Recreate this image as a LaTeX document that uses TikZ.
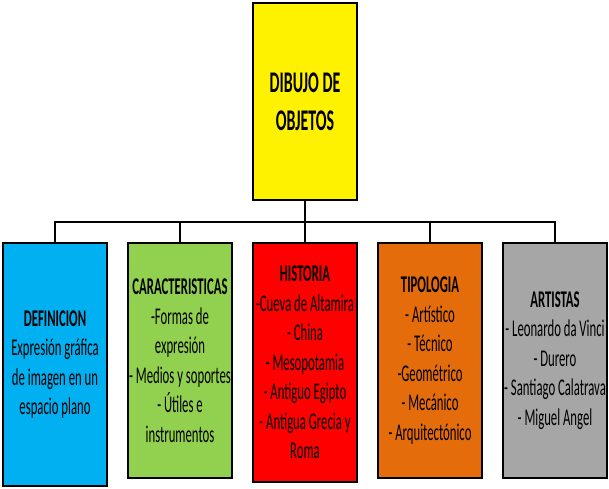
\documentclass[tikz,border=0pt]{standalone}
\usepackage{fontspec}
\setmainfont[FakeStretch=0.53]{Carlito}
\usetikzlibrary{positioning}

\definecolor{defBlue}{HTML}{00B0F0}
\definecolor{carGreen}{HTML}{92D050}
\definecolor{hisRed}{HTML}{FF0000}
\definecolor{tipOrange}{HTML}{E46C0A}
\definecolor{artGray}{HTML}{A6A6A6}

\begin{document}
\begin{tikzpicture}[x=1pt, y=-1pt,
    topbox/.style={rectangle, draw=black, line width=2.5pt, fill=yellow, minimum width=104pt, minimum height=197pt, font=\fontsize{30}{38}\selectfont\bfseries, align=center, inner sep=0pt, outer sep=0pt},
    catbox/.style={rectangle, draw=black, line width=2.5pt, minimum width=104pt, font=\fontsize{24}{29.5}\selectfont, align=center, inner sep=0pt, outer sep=0pt},
    link/.style={line width=2pt},
]
\useasboundingbox (0,0) rectangle (609,488);

% Main topic
\node[topbox] (top) at (305,101.5) {DIBUJO DE\\OBJETOS};

% Branches
\node[catbox, fill=defBlue, minimum height=243pt, anchor=north west] (def) at (3,243) {\textbf{DEFINICION}\\Expresión gráfica\\de imagen en un\\espacio plano};
\node[catbox, fill=carGreen, minimum height=235pt, right=21pt of def.north east, anchor=north west] (car) {\textbf{CARACTERISTICAS}\\-Formas de\\expresión\\- Medios y soportes\\- Útiles e\\instrumentos};
\node[catbox, fill=hisRed, minimum height=239pt, right=21pt of car.north east, anchor=north west] (his) {\textbf{HISTORIA}\\-Cueva de Altamira\\- China\\- Mesopotamia\\- Antiguo Egipto\\- Antigua Grecia y\\Roma};
\node[catbox, fill=tipOrange, minimum height=235pt, right=21pt of his.north east, anchor=north west] (tip) {\textbf{TIPOLOGIA}\\- Artístico\\- Técnico\\-Geométrico\\- Mecánico\\- Arquitectónico};
\node[catbox, fill=artGray, minimum height=235pt, right=21pt of tip.north east, anchor=north west] (art) {\textbf{ARTISTAS}\\- Leonardo da Vinci\\- Durero\\- Santiago Calatrava\\- Miguel Angel};

% Connectors
\coordinate (bar) at (0,222);
\draw[link] (top.south) -- (top.south |- bar);
\draw[link] (def.north) |- (bar -| art.north) -- (art.north);
\draw[link] (car.north) -- (car.north |- bar);
\draw[link] (his.north) -- (his.north |- bar);
\draw[link] (tip.north) -- (tip.north |- bar);
\end{tikzpicture}
\end{document}
